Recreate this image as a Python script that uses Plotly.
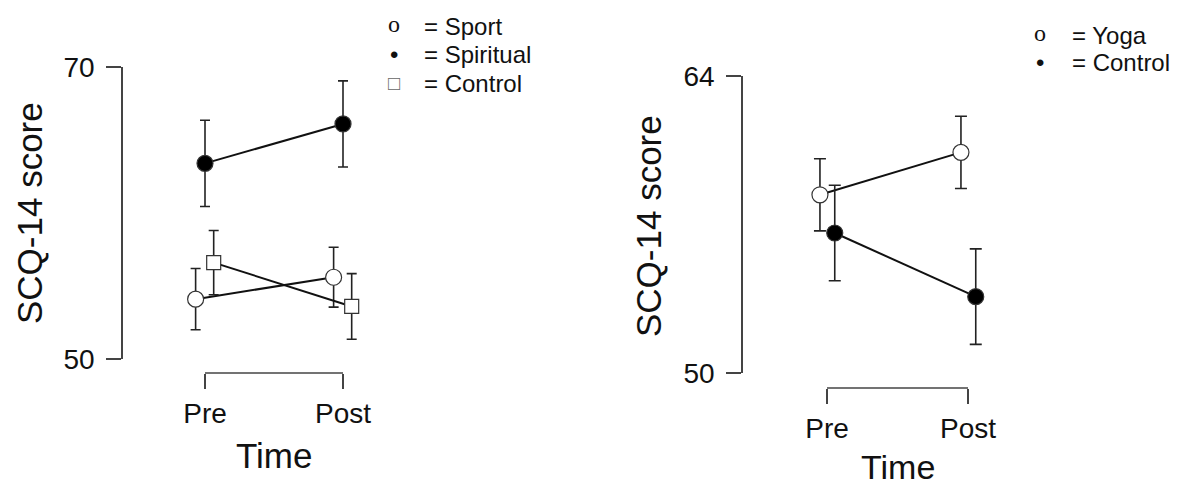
import plotly.graph_objects as go

W, H = 1189, 487

# ---------------- data ----------------
time_labels = ["Pre", "Post"]

# left panel (Sport / Spiritual / Control)
sport_mean = [54.1, 55.6]
sport_err = [2.1, 2.05]
spiritual_mean = [63.4, 66.1]
spiritual_err = [2.95, 2.95]
control1_mean = [56.6, 53.6]
control1_err = [2.2, 2.25]
left_yticks = [50, 70]

# right panel (Yoga / Control)
yoga_mean = [58.4, 60.4]
yoga_err = [1.7, 1.7]
control2_mean = [56.6, 53.6]
control2_err = [2.25, 2.25]
right_yticks = [50, 64]

# ---------------- layout helpers ----------------
def fx(px):
    return px / W

def fy(py):
    return 1 - py / H

FONT = "Liberation Sans, Arial, Helvetica, sans-serif"
AX_COL = "#444444"
LINE_COL = "#111111"

# pixel anchors of each panel
L = dict(yax=123, pre=205, post=343, top=67, bot=359, bracket=373, right=420)
R = dict(yax=743, pre=827, post=968, top=76, bot=373, bracket=388, right=1040)


def xrange_for(p):
    unit = p["post"] - p["pre"]
    return [(p["yax"] - p["pre"]) / unit, (p["right"] - p["pre"]) / unit]


fig = go.Figure()


def add_series(mean, err, offset, xa, ya, symbol, fill, size, capw):
    xs = [i + offset for i in range(len(mean))]
    fig.add_trace(go.Scatter(
        x=xs, y=mean, xaxis=xa, yaxis=ya, mode="lines+markers",
        line=dict(color=LINE_COL, width=2),
        marker=dict(symbol=symbol, size=size, color=fill,
                    line=dict(color="#333333", width=1.2)),
        error_y=dict(type="data", array=err, color="#222222",
                     thickness=1.6, width=capw),
        showlegend=False, cliponaxis=False, hoverinfo="skip",
    ))


# left panel
add_series(sport_mean, sport_err, -0.068, "x", "y", "circle", "white", 16, 5)
add_series(control1_mean, control1_err, 0.063, "x", "y", "square", "white", 14, 5)
add_series(spiritual_mean, spiritual_err, 0.0, "x", "y", "circle", "black", 16, 5)
# right panel
add_series(yoga_mean, yoga_err, -0.05, "x2", "y2", "circle", "white", 16, 6)
add_series(control2_mean, control2_err, 0.055, "x2", "y2", "circle", "black", 16, 6)


def yaxis_cfg(p, ticks, anchor):
    return dict(
        domain=[fy(p["bot"]), fy(p["top"])], range=[ticks[0], ticks[-1]],
        tickvals=ticks, showline=True, linecolor=AX_COL, linewidth=1.5,
        ticks="outside", ticklen=15, tickwidth=1.5, tickcolor=AX_COL,
        tickfont=dict(family=FONT, size=28, color="#111111"),
        showgrid=False, zeroline=False, anchor=anchor, ticklabelstandoff=6,
    )


def xaxis_cfg(p):
    return dict(
        domain=[fx(p["yax"]), fx(p["right"])], range=xrange_for(p),
        anchor="free", position=fy(p["bracket"]),
        tickvals=[0, 1], ticktext=time_labels, showline=False,
        ticks="outside", ticklen=15, tickwidth=1.5, tickcolor=AX_COL,
        tickfont=dict(family=FONT, size=28, color="#111111"),
        showgrid=False, zeroline=False, ticklabelstandoff=0,
    )


shapes = []
for xa, p in (("x", L), ("x2", R)):
    shapes.append(dict(type="line", xref=xa, yref="paper", x0=0, x1=1,
                       y0=fy(p["bracket"]), y1=fy(p["bracket"]),
                       line=dict(color=AX_COL, width=1.5)))

ann = []


def text(x, y, s, size, angle=0, xanchor="center", family=FONT, color="#111111"):
    ann.append(dict(x=fx(x), y=fy(y), xref="paper", yref="paper", text=s,
                    showarrow=False, textangle=angle, xanchor=xanchor,
                    yanchor="middle", font=dict(family=family, size=size, color=color)))


# axis titles
text(29, 213, "SCQ-14 score", 35, angle=-90)
text(274, 455, "Time", 35)
text(648, 226, "SCQ-14 score", 35, angle=-90)
text(898, 467, "Time", 34)

# legend left
SERIF = "Liberation Serif, Times New Roman, serif"
text(394, 24, "o", 24, family=SERIF)
text(394, 55, "•", 24)
text(394, 83, "□", 20, color="#666666")
text(422, 26, "= Sport", 24, xanchor="left")
text(422, 55, "= Spiritual", 24, xanchor="left")
text(422, 83, "= Control", 24, xanchor="left")

# legend right
text(1040, 33, "o", 24, family=SERIF)
text(1040, 63, "•", 24)
text(1070, 35, "= Yoga", 24, xanchor="left")
text(1070, 63, "= Control", 24, xanchor="left")

fig.update_layout(
    width=W, height=H, margin=dict(l=0, r=0, t=0, b=0, autoexpand=False),
    paper_bgcolor="white", plot_bgcolor="white",
    xaxis=xaxis_cfg(L), yaxis=yaxis_cfg(L, left_yticks, "x"),
    xaxis2=xaxis_cfg(R), yaxis2=yaxis_cfg(R, right_yticks, "x2"),
    shapes=shapes, annotations=ann, showlegend=False,
)

fig.write_html("out.html", config={"displayModeBar": False},
               post_script="document.body.style.margin='0';")
